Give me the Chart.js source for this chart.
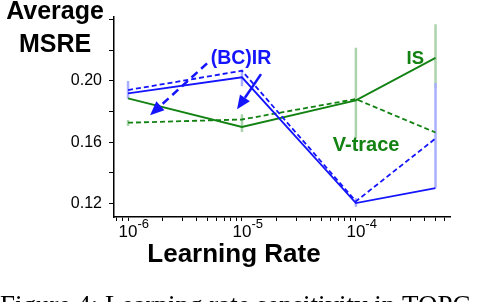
<!DOCTYPE html>
<html>
<head>
<meta charset="utf-8">
<script src="https://cdn.jsdelivr.net/npm/chart.js@4"></script>
<style>
body { margin: 0; background: #fff; }
#wrap { width: 480px; height: 302px; }
</style>
</head>
<body>
<div id="wrap"><canvas id="lrChart"></canvas></div>
<script>
const rates = [1e-6, 1e-5, 1e-4, 5e-4];
const irMsre = [0.1919, 0.2024, 0.1204, 0.1302];      // blue solid
const bcirMsre = [0.1941, 0.2067, 0.1215, 0.1625];    // blue dashed
const isMsre = [0.1887, 0.1700, 0.1874, 0.2151];      // green solid
const vtraceMsre = [0.1728, 0.1749, 0.1882, 0.1664];  // green dashed

// spread bars: [rate, low, high]
const blueErr = [[1e-6, 0.1885, 0.2000], [1e-5, 0.1965, 0.2075], [1e-4, 0.1180, 0.1235], [5e-4, 0.1304, 0.1987]];
const greenErr = [[1e-6, 0.1706, 0.1745], [1e-5, 0.1668, 0.1783], [1e-4, 0.1623, 0.2217], [5e-4, 0.1955, 0.2370]];

const yTicks = [0.12, 0.14, 0.16, 0.18, 0.20, 0.22, 0.24];
const yLabels = ['0.12', '', '0.16', '', '0.20', '', ''];
const xDecades = [1e-6, 1e-5, 1e-4];
const xExponents = ['-6', '-5', '-4'];

const FONT = '"Liberation Sans", Arial, sans-serif';
const BLUE = '#1414ff', GREEN = '#128212';
const LBLUE = '#aab0ff', LGREEN = '#acd4ac';

let xMinor = [];
[1e-7, 1e-6, 1e-5, 1e-4].forEach(d => {
    for (let k = 2; k <= 9; k++) xMinor.push(k * d);
});

function pts(ys) {
    return rates.map((r, i) => ({ x: r, y: ys[i] }));
}
function errSets(list, color) {
    return list.map(e => ({
        data: [{ x: e[0], y: e[1] }, { x: e[0], y: e[2] }],
        borderColor: color, borderWidth: 2.5
    }));
}

// text and arrows placed in data space
const notes = [
    { text: '(BC)IR', x: 9.8e-6, y: 0.2147, color: BLUE, size: 19.5 },
    { text: 'IS', x: 3.32e-4, y: 0.2147, color: GREEN, size: 18.5 },
    { text: 'V-trace', x: 1.23e-4, y: 0.1579, color: GREEN, size: 20 }
];
const arrows = [
    { from: [4.94e-6, 0.2115], to: [1.56e-6, 0.1777], dash: [8, 5] },
    { from: [1.47e-5, 0.2045], to: [9.06e-6, 0.1815], dash: [] }
];

function drawArrow(ctx, x0, y0, x1, y1, dash) {
    const ang = Math.atan2(y1 - y0, x1 - x0), head = 14, half = 6;
    const bx = x1 - head * Math.cos(ang), by = y1 - head * Math.sin(ang);
    ctx.setLineDash(dash);
    ctx.lineWidth = 2.5;
    ctx.beginPath(); ctx.moveTo(x0, y0); ctx.lineTo(bx, by); ctx.stroke();
    ctx.setLineDash([]);
    ctx.beginPath();
    ctx.moveTo(x1, y1);
    ctx.lineTo(bx + half * Math.sin(ang), by - half * Math.cos(ang));
    ctx.lineTo(bx - half * Math.sin(ang), by + half * Math.cos(ang));
    ctx.closePath(); ctx.fill();
}

const notesPlugin = {
    id: 'notes',
    afterDraw(chart) {
        const { ctx, scales: { x, y } } = chart;
        ctx.save();
        ctx.fillStyle = '#000';
        ctx.font = 'bold 25px ' + FONT;
        ctx.textAlign = 'center';
        ctx.textBaseline = 'alphabetic';
        ctx.fillText('Average', 55, 19);
        ctx.fillText('MSRE', 55, 52);

        // x tick labels 10^n
        xDecades.forEach((d, i) => {
            const px = x.getPixelForValue(d);
            ctx.font = '17px ' + FONT;
            ctx.textAlign = 'center';
            ctx.fillText('10', px, 237);
            const w = ctx.measureText('10').width;
            ctx.font = '13px ' + FONT;
            ctx.textAlign = 'left';
            ctx.fillText(xExponents[i], px + w / 2, 228);
        });

        ctx.font = 'bold 26px ' + FONT;
        ctx.textAlign = 'center';
        ctx.fillText('Learning Rate', 234, 262);

        ctx.textBaseline = 'middle';
        for (const n of notes) {
            ctx.fillStyle = n.color;
            ctx.font = 'bold ' + n.size + 'px ' + FONT;
            ctx.fillText(n.text, x.getPixelForValue(n.x), y.getPixelForValue(n.y));
        }
        ctx.strokeStyle = BLUE; ctx.fillStyle = BLUE;
        for (const a of arrows) {
            drawArrow(ctx, x.getPixelForValue(a.from[0]), y.getPixelForValue(a.from[1]),
                x.getPixelForValue(a.to[0]), y.getPixelForValue(a.to[1]), a.dash);
        }

        ctx.fillStyle = '#000';
        ctx.font = '27px "Liberation Serif", serif';
        ctx.textAlign = 'left';
        ctx.textBaseline = 'alphabetic';
        ctx.fillText('Figure 4: Learning rate sensitivity in TOPC', 0, 314);
        ctx.restore();
    }
};

new Chart(document.getElementById('lrChart'), {
    type: 'line',
    data: {
        datasets: [
            { label: 'IR', data: pts(irMsre), borderColor: BLUE, borderWidth: 1.8 },
            { label: '(BC)IR', data: pts(bcirMsre), borderColor: BLUE, borderWidth: 1.8, borderDash: [5, 3] },
            { label: 'IS', data: pts(isMsre), borderColor: GREEN, borderWidth: 1.8 },
            { label: 'V-trace', data: pts(vtraceMsre), borderColor: GREEN, borderWidth: 1.8, borderDash: [5, 3] },
            ...errSets(blueErr, LBLUE),
            ...errSets(greenErr, LGREEN)
        ]
    },
    options: {
        responsive: true,
        maintainAspectRatio: false,
        animation: false,
        elements: { point: { radius: 0 }, line: { tension: 0 } },
        layout: { padding: { top: 12, right: 30, left: 0, bottom: 0 } },
        plugins: { legend: { display: false }, tooltip: { enabled: false } },
        scales: {
            x: {
                type: 'logarithmic',
                min: 7.53e-7,
                max: 6.7e-4,
                afterBuildTicks: s => {
                    s.ticks = [...xMinor, ...xDecades]
                        .filter(v => v >= s.min && v <= s.max)
                        .sort((a, b) => a - b)
                        .map(v => ({ value: v, major: xDecades.includes(v) }));
                },
                afterFit: s => { s.height = 85; },
                grid: { drawOnChartArea: false, tickLength: 4, color: '#000' },
                border: { color: '#000', width: 1.5 },
                ticks: { autoSkip: false, maxRotation: 0, padding: 0, callback: () => '' }
            },
            y: {
                min: 0.1113,
                max: 0.242,
                afterBuildTicks: s => { s.ticks = yTicks.map(v => ({ value: v })); },
                afterFit: s => { s.width = 114; },
                grid: { drawOnChartArea: false, tickLength: 5, color: '#000' },
                border: { color: '#000', width: 1.5 },
                ticks: {
                    padding: 7, color: '#000',
                    font: { size: 16, family: FONT },
                    callback: v => {
                        const i = yTicks.indexOf(v);
                        return i >= 0 ? yLabels[i] : '';
                    }
                }
            }
        }
    },
    plugins: [notesPlugin]
});
</script>
</body>
</html>
